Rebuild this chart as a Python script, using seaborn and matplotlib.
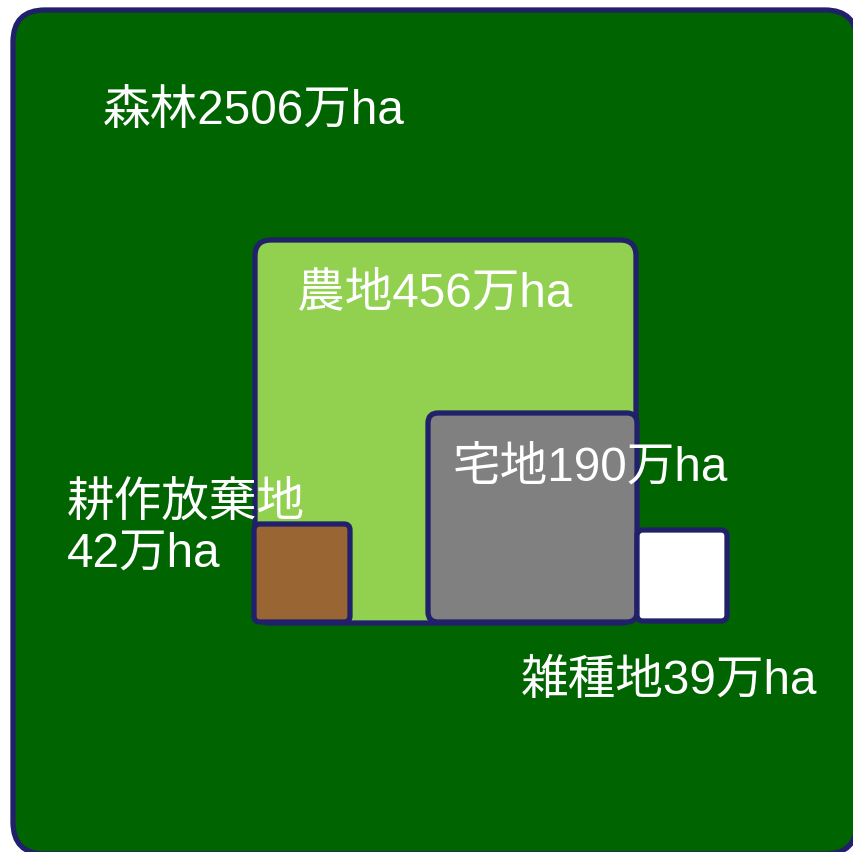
import matplotlib
matplotlib.use("Agg")
import matplotlib.pyplot as plt
from matplotlib.patches import FancyBboxPatch
import seaborn as sns

# Land-use categories and their areas (万ha)
categories = ["森林", "農地", "耕作放棄地", "宅地", "雑種地"]
areas = [2506, 456, 42, 190, 39]
unit = "万ha"

# Fill colours for each category
colors = ["#006400", "#92D050", "#996633", "#808080", "#FFFFFF"]
edge_color = "#21206A"

# Schematic box layout in pixel units: (left, top, right, bottom, corner radius)
boxes = [
    (13, 10, 857, 854, 32),
    (255, 240, 636, 623, 16),
    (254, 524, 350, 622, 6),
    (428, 413, 637, 622, 10),
    (637, 530, 727, 621, 6),
]

# Label placement: (x, y, line break in label)
labels = [
    (103, 111, False),
    (297, 294, False),
    (67, 529, True),
    (453, 468, False),
    (521, 681, False),
]

sns.set_theme(style="white")
plt.rcParams["font.family"] = ["Liberation Sans", "Noto Sans CJK JP", "DejaVu Sans"]

fig = plt.figure(figsize=(8.54, 8.52), dpi=100)
ax = fig.add_axes([0, 0, 1, 1])
ax.set_xlim(0, 854)
ax.set_ylim(852, 0)
ax.axis("off")

for (x0, y0, x1, y1, r), c in zip(boxes, colors):
    patch = FancyBboxPatch(
        (x0, y0), x1 - x0, y1 - y0,
        boxstyle=f"round,pad=0,rounding_size={r}",
        facecolor=c, edgecolor=edge_color, linewidth=3.8,
        joinstyle="round",
    )
    ax.add_patch(patch)

for name, val, (lx, ly, wrap) in zip(categories, areas, labels):
    sep = "\n" if wrap else ""
    text = f"{name}{sep}{val}{unit}"
    ax.text(lx, ly, text, color="white", fontsize=34.3, ha="left", va="center",
            linespacing=1.17)

fig.savefig("out.png", dpi=100)
